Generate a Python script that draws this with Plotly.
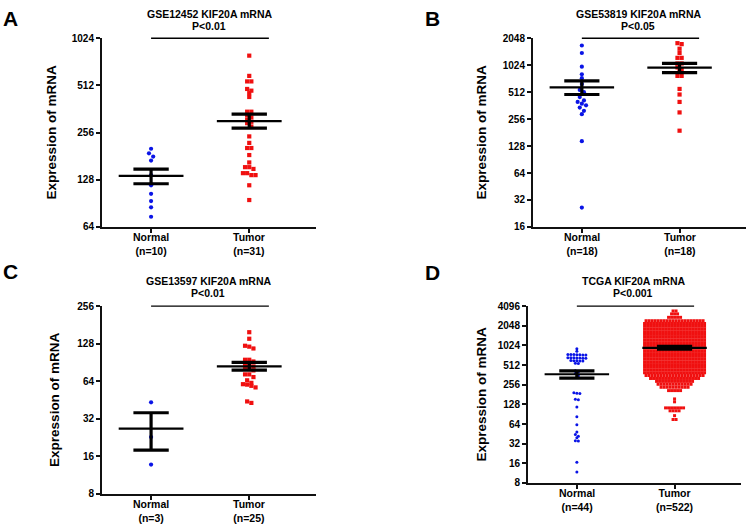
import numpy as np
import plotly.graph_objects as go

W, H = 750, 532
FONT = "Liberation Sans, Arial, sans-serif"

categories = ["Normal", "Tumor"]

# panel A
a_title = "GSE12452 KIF20A mRNA"
a_p = "P&lt;0.01"
a_n = [10, 31]
a_ticks = [64, 128, 256, 512, 1024]
a_normal = [201.8, 188.6, 179.9, 169.7, 136.8, 117.9, 104.0, 93.6, 85.4, 74.3]
a_tumor = [793, 589, 543, 543, 486, 474, 457, 432, 348, 348, 330, 320, 310, 300,
           294, 280, 242, 220, 204, 204, 184, 165, 154, 154, 150, 141, 141, 137,
           137, 118, 95]
a_mean = [135.6, 303]
a_sem_lo = [120.7, 273]
a_sem_hi = [149.8, 336]

# panel B
b_title = "GSE53819 KIF20A mRNA"
b_p = "P&lt;0.05"
b_n = [18, 18]
b_ticks = [16, 32, 64, 128, 256, 512, 1024, 2048]
b_normal = [1701, 1402, 985, 812, 734, 631, 542, 512, 451, 414, 398, 381, 365,
            344, 317, 291, 145, 26.3]
b_tumor = [1805, 1761, 1564, 1403, 1237, 1237, 1071, 1071, 968, 928, 876, 778,
           778, 556, 482, 398, 304, 190]
b_mean = [580, 962]
b_sem_lo = [482, 848]
b_sem_hi = [685, 1071]

# panel C
c_title = "GSE13597 KIF20A mRNA"
c_p = "P&lt;0.01"
c_n = [3, 25]
c_ticks = [8, 16, 32, 64, 128, 256]
c_normal = [43.3, 22.8, 13.7]
c_tumor = [158, 140, 123, 121, 117, 95, 95, 92, 88, 86, 84, 82, 80, 78, 72.5,
           72.5, 69, 65, 62, 60.5, 60, 58.7, 57, 44, 42.8]
c_mean = [26.6, 84.1]
c_sem_lo = [17.9, 78.4]
c_sem_hi = [35.7, 90.6]

# panel D
d_title = "TCGA KIF20A mRNA"
d_p = "P&lt;0.001"
d_n = [44, 522]
d_ticks = [8, 16, 32, 64, 128, 256, 512, 1024, 2048, 4096]
d_normal = [908, 830, 745, 740, 736, 732, 728, 742, 738, 665, 660, 655, 650, 662,
            658, 652, 600, 595, 590, 598, 592, 548, 540, 420, 400, 380, 350, 330,
            192, 190, 188, 153, 150, 117, 83, 62.5, 48.4, 44.3, 41.7, 39.4, 35.5,
            35.1, 16.6, 11.8]
d_tumor_levels = [3446, 3108, 2755, 2443, 2217, 2013, 1828, 1660, 1507, 1368, 1242,
                  1128, 1024, 930, 844, 767, 696, 632, 574, 521, 473, 429, 390,
                  354, 319, 288, 260, 234, 208, 155, 140, 113, 102, 86, 75]
d_tumor_counts = [2, 3, 5, 20, 21, 21, 21, 21, 21, 21, 21, 21, 21, 21, 21, 21, 21,
                  21, 21, 21, 21, 21, 21, 20, 17, 13, 12, 10, 5, 1, 1, 7, 4, 1, 2]
d_tumor = list(np.repeat(d_tumor_levels, d_tumor_counts))
d_mean = [370, 940]
d_sem_lo = [322, 895]
d_sem_hi = [416, 990]

XR = [-0.5, 1.68]

panels = [
    dict(letter="A", title=a_title, p=a_p, n=a_n, ticks=a_ticks, normal=a_normal, tumor=a_tumor,
         mean=a_mean, lo=a_sem_lo, hi=a_sem_hi, box=(102, 316, 33, 226), tx=209, ty=(8.3, 20.7),
         lx=(10.5, 12.5), yt=52, cy=243, size=4.2, row=3.6, col=4.2),
    dict(letter="B", title=b_title, p=b_p, n=b_n, ticks=b_ticks, normal=b_normal, tumor=b_tumor,
         mean=b_mean, lo=b_sem_lo, hi=b_sem_hi, box=(533, 746, 33, 226), tx=638, ty=(8.3, 20.4),
         lx=(432.5, 12.5), yt=482, cy=243.5, size=4.2, row=3.6, col=4.2),
    dict(letter="C", title=c_title, p=c_p, n=c_n, ticks=c_ticks, normal=c_normal, tumor=c_tumor,
         mean=c_mean, lo=c_sem_lo, hi=c_sem_hi, box=(102, 316, 307, 499), tx=208, ty=(281, 293.3),
         lx=(10.5, 271.5), yt=55, cy=516.5, size=4.2, row=3.6, col=4.2),
    dict(letter="D", title=d_title, p=d_p, n=d_n, ticks=d_ticks, normal=d_normal, tumor=d_tumor,
         mean=d_mean, lo=d_sem_lo, hi=d_sem_hi, box=(528, 741, 307, 488), tx=633, ty=(281, 293.3),
         lx=(432.5, 273), yt=482, cy=505, size=3.0, row=2.5, col=3.0),
]


def swarm(values, cat, px_oct, px_unit, row_h, col_w):
    # GraphPad-style rows: points that fall in the same row sit side by side
    order = sorted(values, reverse=True)
    rows = []
    for v in order:
        y = np.log2(v) * px_oct
        if rows and rows[-1][0] - y < row_h:
            rows[-1][1].append(v)
        else:
            rows.append([y, [v]])
    xs, ys = [], []
    for _, row in rows:
        n = len(row)
        for i, v in enumerate(row):
            xs.append(cat + (i - (n - 1) / 2) * col_w / px_unit)
            ys.append(v)
    return xs, ys


def txt(text, x, y, size, **kw):
    return dict(text=text, x=x / W, y=1 - y / H, xref="paper", yref="paper", showarrow=False,
                font=dict(size=size, color="black", family=FONT), xanchor="center",
                yanchor="middle", **kw)


fig = go.Figure()
annotations = []
shapes = []

for i, pn in enumerate(panels):
    s = "" if i == 0 else str(i + 1)
    x0, x1, y0, y1 = pn["box"]
    lo_t, hi_t = pn["ticks"][0], pn["ticks"][-1]
    px_oct = (y1 - y0) / np.log2(hi_t / lo_t)
    px_unit = (x1 - x0) / (XR[1] - XR[0])

    for c, (vals, sym, col) in enumerate([(pn["normal"], "circle", "#0a14e6"),
                                          (pn["tumor"], "square", "#f01010")]):
        xs, ys = swarm(vals, c, px_oct, px_unit, pn["row"], pn["col"])
        fig.add_trace(go.Scatter(x=xs, y=ys, mode="markers", xaxis="x" + s, yaxis="y" + s,
                                 marker=dict(symbol=sym, size=pn["size"], color=col, line_width=0),
                                 cliponaxis=False, showlegend=False))

    for c in range(2):
        m, lo, hi = pn["mean"][c], pn["lo"][c], pn["hi"][c]
        fig.add_trace(go.Scatter(x=[c - 0.33, c + 0.33], y=[m, m], mode="lines",
                                 xaxis="x" + s, yaxis="y" + s,
                                 line=dict(color="black", width=2.2), showlegend=False))
        fig.add_trace(go.Scatter(x=[c - 0.18, c + 0.18, None, c - 0.18, c + 0.18, None, c, c],
                                 y=[lo, lo, None, hi, hi, None, lo, hi], mode="lines",
                                 xaxis="x" + s, yaxis="y" + s,
                                 line=dict(color="black", width=3.2), showlegend=False))

    xdom = [x0 / W, x1 / W]
    ydom = [1 - y1 / H, 1 - y0 / H]
    fig.update_layout(**{
        "xaxis" + s: dict(domain=xdom, range=XR, anchor="y" + s, tickvals=[0, 1],
                          showticklabels=False,
                          showline=True, linecolor="#111", linewidth=2, ticks="outside",
                          ticklen=4, tickwidth=1.5, tickcolor="#111", showgrid=False,
                          zeroline=False),
        "yaxis" + s: dict(domain=ydom, type="log", range=[np.log10(lo_t), np.log10(hi_t)],
                          anchor="x" + s, tickvals=pn["ticks"],
                          ticktext=["<b>%d</b>" % t for t in pn["ticks"]],
                          showline=True, linecolor="#111", linewidth=2, ticks="outside",
                          ticklen=4, tickwidth=1.5, tickcolor="#111", showgrid=False,
                          zeroline=False, tickfont=dict(size=10, color="black", family=FONT)),
    })

    shapes.append(dict(type="line", xref="x" + s, yref="y%s domain" % s, x0=0, x1=1.2, y0=1, y1=1,
                       line=dict(color="black", width=1.3)))

    annotations += [
        txt("<b>%s</b>" % pn["title"], pn["tx"], pn["ty"][0], 10.5),
        txt("<b>%s</b>" % pn["p"], pn["tx"], pn["ty"][1], 10.5),
        txt("<b>%s</b>" % pn["letter"], pn["lx"][0], pn["lx"][1], 21),
        txt("<b>Expression of mRNA</b>", pn["yt"], (y0 + y1) / 2, 13.5, textangle=-90),
    ]
    for c in range(2):
        cx = x0 + (c - XR[0]) * px_unit
        annotations.append(txt("<b>%s</b><br><b>(n=%d)</b>" % (categories[c], pn["n"][c]),
                               cx, pn["cy"], 10.5))

fig.update_layout(width=W, height=H, margin=dict(l=0, r=0, t=0, b=0),
                  paper_bgcolor="white", plot_bgcolor="white",
                  annotations=annotations, shapes=shapes, showlegend=False)

fig.write_html("out.html", config={"displayModeBar": False},
               post_script="var gd=document.getElementById('{plot_id}');"
                           "gd.style.position='fixed';gd.style.left='0px';gd.style.top='0px';"
                           "document.body.style.margin='0';"
                           "document.documentElement.style.overflow='hidden';")
